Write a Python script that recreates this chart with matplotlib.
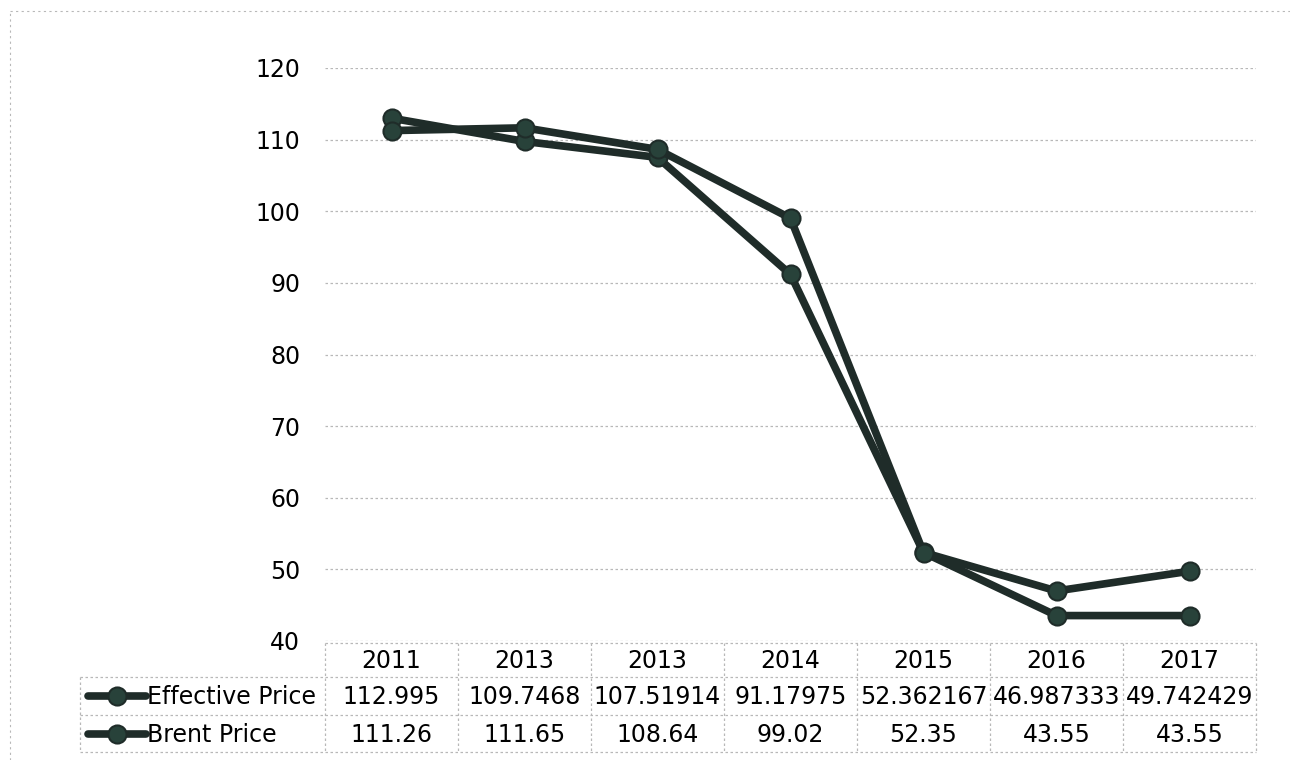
import matplotlib.pyplot as plt
from matplotlib.lines import Line2D
import matplotlib.transforms as mtransforms
import numpy as np

years = ["2011", "2013", "2013", "2014", "2015", "2016", "2017"]
effective_price = [112.995, 109.7468, 107.51914, 91.17975, 52.362167, 46.987333, 49.742429]
brent_price = [111.26, 111.65, 108.64, 99.02, 52.35, 43.55, 43.55]
effective_text = ["112.995", "109.7468", "107.51914", "91.17975", "52.362167", "46.987333", "49.742429"]
brent_text = ["111.26", "111.65", "108.64", "99.02", "52.35", "43.55", "43.55"]
series_names = ["Effective Price", "Brent Price"]

line_col = "#1f2c29"
marker_col = "#28423a"
grid_col = "#b8b8b8"

plt.rcParams["font.family"] = "DejaVu Sans"

fig = plt.figure(figsize=(12.9, 7.6), dpi=100)
ax = fig.add_axes([325 / 1290, 1 - 641 / 760, (1256 - 325) / 1290, (641 - 68) / 760])

x = np.arange(len(years))
for vals in (effective_price, brent_price):
    ax.plot(x, vals, color=line_col, lw=5.5, marker="o", ms=13,
            mfc=marker_col, mec=line_col, mew=1.5, solid_capstyle="round", zorder=3)

ax.set_xlim(-0.5, len(years) - 0.5)
ax.set_ylim(40, 120)
ax.set_yticks(range(40, 121, 10))
ax.tick_params(axis="y", length=0, pad=18, labelsize=17)
ax.set_xticks([])
for s in ax.spines.values():
    s.set_visible(False)
ax.yaxis.grid(True, color=grid_col, lw=0.9, ls=(0, (2, 2)))
ax.set_axisbelow(True)

# data table below the plot (x in data units, y in axes fraction)
trans = mtransforms.blended_transform_factory(ax.transData, ax.transAxes)


def ay(px):
    return (641 - px) / 573


def cell_line(xs, ys):
    ax.add_line(Line2D(xs, ys, transform=trans, color=grid_col, lw=0.9,
                       ls=(0, (2, 2)), clip_on=False))


x_left = -0.5 - (325 - 80) / 133
x_right = len(years) - 0.5
cell_line([-0.5, x_right], [ay(643), ay(643)])
for ypx in (677, 715, 752):
    cell_line([x_left, x_right], [ay(ypx), ay(ypx)])
cell_line([x_left, x_left], [ay(677), ay(752)])
for i in range(len(years) + 1):
    cell_line([i - 0.5, i - 0.5], [ay(643), ay(752)])

for i, yr in enumerate(years):
    ax.text(i, ay(661), yr, transform=trans, ha="center", va="center", fontsize=17)
for row_vals, ypx in ((effective_text, 697), (brent_text, 735)):
    for i, t in enumerate(row_vals):
        ax.text(i, ay(ypx), t, transform=trans, ha="center", va="center", fontsize=17)

# row labels with legend keys
k0 = -0.5 - (325 - 88) / 133
k1 = -0.5 - (325 - 146) / 133
for name, ypx in zip(series_names, (697, 735)):
    ax.add_line(Line2D([k0, k1], [ay(ypx - 1), ay(ypx - 1)], transform=trans, color=line_col,
                       lw=5.5, solid_capstyle="round", clip_on=False))
    ax.add_line(Line2D([(k0 + k1) / 2], [ay(ypx - 1)], transform=trans, marker="o", ms=13,
                       mfc=marker_col, mec=line_col, mew=1.5, clip_on=False))
    ax.text(k1 + 0.01, ay(ypx), name, transform=trans, ha="left", va="center", fontsize=17)

# faint chart area border
fig.add_artist(Line2D([10 / 1290, 10 / 1290], [0, 1 - 11 / 760], color=grid_col,
                      lw=0.8, ls=(0, (2, 3))))
fig.add_artist(Line2D([10 / 1290, 1], [1 - 11 / 760, 1 - 11 / 760], color=grid_col,
                      lw=0.8, ls=(0, (2, 3))))

fig.savefig("out.png", dpi=100)
